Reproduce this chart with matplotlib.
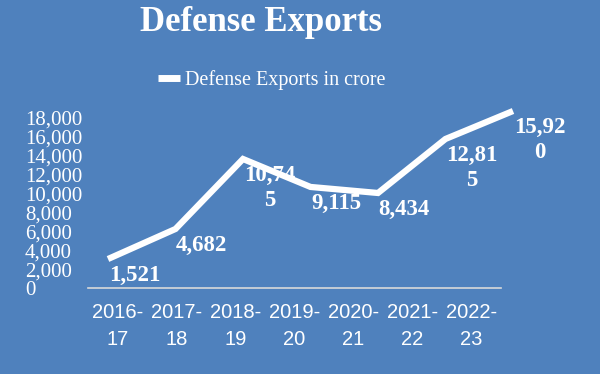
import matplotlib
matplotlib.use('Agg')
import matplotlib.pyplot as plt

# data
years = ["2016-\n17", "2017-\n18", "2018-\n19", "2019-\n20", "2020-\n21", "2021-\n22", "2022-\n23"]
# line heights as read against the drawn y axis
line_values = [3070, 6250, 13660, 10700, 10060, 15780, 18740]
# data labels as printed on the chart (wrapped like the original)
label_text = ["1,521", "4,682", "10,74\n5", "9,115", "8,434", "12,81\n5", "15,92\n0"]
y_ticks = [0, 2000, 4000, 6000, 8000, 10000, 12000, 14000, 16000, 18000]

bg = "#4F81BD"
serif = "Liberation Serif"

fig = plt.figure(figsize=(6, 3.74), dpi=100)
fig.patch.set_facecolor(bg)

W, H = 600, 374
bottom = (H - 288) / H
height = 170 / H

# frame axis: ticks, labels, baseline
ax = fig.add_axes([88 / W, bottom, 413 / W, height])
ax.set_facecolor("none")
ax.set_xlim(-0.5, 6.5)
ax.set_ylim(0, 18000)
for s in ["top", "right", "left"]:
    ax.spines[s].set_visible(False)
ax.spines["bottom"].set_color("#D9D9D9")
ax.spines["bottom"].set_linewidth(1.2)

ax.set_xticks(range(len(years)))
ax.set_xticklabels(years, fontfamily="Liberation Sans", fontsize=14.5, color="white", linespacing=1.55)
ax.set_yticks(y_ticks)
ax.set_yticklabels(["{:,}".format(v) for v in y_ticks], fontfamily=serif, fontsize=15, color="white")
for lbl in ax.get_yticklabels():
    lbl.set_horizontalalignment("left")
ax.tick_params(axis="y", length=0, pad=45.4)
ax.tick_params(axis="x", length=0, pad=10.5)

# line axis (the line is drawn stretched relative to the category axis)
ax2 = fig.add_axes([108 / W, bottom, 405 / W, height])
ax2.set_facecolor("none")
ax2.set_xlim(0, 6)
ax2.set_ylim(0, 18000)
ax2.axis("off")
xs = list(range(len(line_values)))
ax2.plot(xs, line_values, color="white", linewidth=4.5, clip_on=False,
         solid_joinstyle="miter", solid_capstyle="butt", label="Defense Exports in crore")
for x, v, t in zip(xs, line_values, label_text):
    ax2.annotate(t, (x, v), xytext=(0.5, -4.5), textcoords="offset points",
                 ha="left", va="top", multialignment="center", linespacing=1.25,
                 fontfamily=serif, fontweight="bold", fontsize=16.5, color="white",
                 annotation_clip=False)

fig.text(261 / W, 1 - 22.5 / H, "Defense Exports", ha="center", va="center",
         fontfamily=serif, fontweight="bold", fontsize=25, color="white")

leg = fig.legend(loc="center", bbox_to_anchor=(272 / W, 1 - 80 / H), frameon=False,
                 handlelength=1.1, handletextpad=0.25,
                 prop={"family": serif, "size": 14.5})
for t in leg.get_texts():
    t.set_color("white")
for h in leg.legend_handles:
    h.set_linewidth(5)

fig.savefig("out.png", dpi=100, facecolor=bg)
